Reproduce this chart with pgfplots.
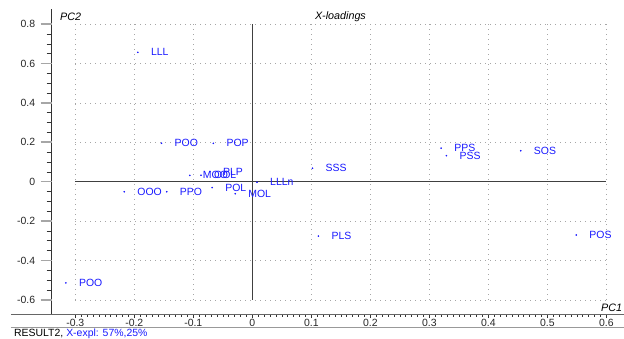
\documentclass[border=0pt]{standalone}
\usepackage{pgfplots}
\usepackage{pgfplotstable}
\pgfplotsset{compat=1.18}
\usepackage{fontspec}
\setmainfont{Liberation Sans}
\definecolor{ptblue}{RGB}{25,25,255}
\pgfplotstableread{
x y label
-0.194 0.657 LLL
-0.154 0.195 POO
-0.066 0.195 POP
0.320 0.170 PPS
0.329 0.132 PSS
0.455 0.157 SOS
0.102 0.068 SSS
-0.106 0.032 MOO
-0.087 0.033 OOL
-0.072 0.051 PLP
-0.217 -0.051 OOO
-0.145 -0.051 PPO
-0.068 -0.030 POL
-0.029 -0.061 MOL
0.008 -0.003 LLLn
-0.316 -0.514 POO
0.112 -0.276 PLS
0.549 -0.271 POS
}\loadings
\begin{document}
\begin{tikzpicture}[x=1bp,y=1bp]
\useasboundingbox (0,0) rectangle (624,338);
\begin{axis}[
  at={(51.7bp,24bp)}, anchor=south west,
  scale only axis, width=572.3bp, height=305bp,
  xmin=-0.34, xmax=0.63, ymin=-0.672, ymax=0.877,
  clip=false,
  axis line style={draw=none},
  xtick={-0.3,-0.2,-0.1,0,0.1,0.2,0.3,0.4,0.5,0.6},
  xticklabels={-0.3,-0.2,-0.1,0,0.1,0.2,0.3,0.4,0.5,0.6},
  ytick={-0.6,-0.4,-0.2,0,0.2,0.4,0.6,0.8},
  yticklabels={-0.6,-0.4,-0.2,0,0.2,0.4,0.6,0.8},
  xtick pos=bottom, ytick pos=left,
  tick align=outside,
  major tick length=4bp, minor tick length=2.5bp,
  minor x tick num=9,
  ytick style={draw=none},
  xtick style={black!80, line width=0.5bp},
  tick label style={font=\fontsize{10.5}{12}\selectfont, text=black!85},
  xticklabel style={yshift=2bp},
  yticklabel style={xshift=-9bp},
  nodes near coords,
  point meta=explicit symbolic,
  every node near coord/.append style={anchor=west, inner sep=0pt, xshift=13bp,
    font=\fontsize{10.5}{12}\selectfont, text=ptblue},
]
% grid
\pgfplotsinvokeforeach{-0.3,-0.2,-0.1,0.1,0.2,0.3,0.4,0.5,0.6}{
  \draw[gray!70, line width=0.6bp, dash pattern=on 0.8bp off 4.2bp] (axis cs:#1,-0.6) -- (axis cs:#1,0.8);}
\pgfplotsinvokeforeach{-0.6,-0.4,-0.2,0.2,0.4,0.6,0.8}{
  \draw[gray!70, line width=0.6bp, dash pattern=on 0.8bp off 4.2bp] (axis cs:-0.3,#1) -- (axis cs:0.6,#1);}
% zero lines
\draw[black!75, line width=0.8bp] (axis cs:0,-0.6) -- (axis cs:0,0.8);
\draw[black!75, line width=0.8bp] (axis cs:-0.3,0) -- (axis cs:0.6,0);
% spines
\draw[black!80, line width=0.8bp] (axis cs:-0.34,-0.672) -- (axis cs:-0.34,0.877);
\draw[black!60, line width=0.8bp] (axis cs:-0.409,-0.672) -- (axis cs:0.63,-0.672);
\draw[black!40, line width=0.6bp] (axis cs:-0.409,-0.740) -- (axis cs:0.63,-0.740);
% y ticks
\pgfplotsinvokeforeach{-0.6,-0.4,-0.2,0,0.2,0.4,0.6,0.8}{
  \draw[gray!70, line width=1.6bp] ([xshift=-11bp]axis cs:-0.34,#1) -- (axis cs:-0.34,#1);}
\pgfplotsinvokeforeach{-0.55,-0.5,-0.45,-0.35,-0.3,-0.25,-0.15,-0.1,-0.05,0.05,0.1,0.15,0.25,0.3,0.35,0.45,0.5,0.55,0.65,0.7,0.75}{
  \draw[black!80, line width=0.6bp] ([xshift=-5bp]axis cs:-0.34,#1) -- (axis cs:-0.34,#1);}
% data
\addplot[only marks, mark=*, mark size=0.6bp, color=ptblue] table[x=x, y=y, meta=label] {\loadings};
% texts
\node[anchor=west, inner sep=0pt, font=\fontsize{10.8}{12}\selectfont\itshape] at (axis cs:-0.326,0.836) {PC2};
\node[anchor=west, inner sep=0pt, font=\fontsize{10.8}{12}\selectfont\itshape] at (axis cs:0.106,0.836) {X-loadings};
\node[anchor=west, inner sep=0pt, font=\fontsize{10.8}{12}\selectfont\itshape] at (axis cs:0.591,-0.640) {PC1};
\node[anchor=west, inner sep=0pt, font=\fontsize{10.5}{12}\selectfont] at (axis cs:-0.404,-0.770) {RESULT2, \textcolor{ptblue}{X-expl: 57\%,25\%}};
\end{axis}
\end{tikzpicture}
\end{document}
